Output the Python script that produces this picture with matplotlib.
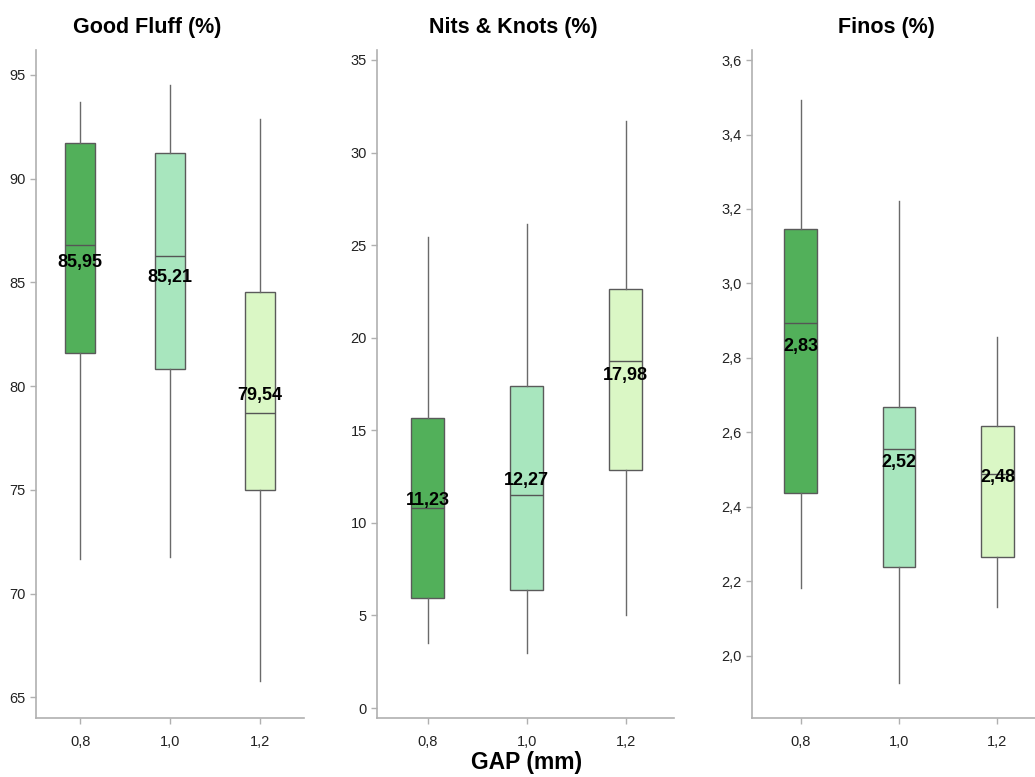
import matplotlib.pyplot as plt
from matplotlib import ticker

plt.rcParams['font.family'] = ['Liberation Sans', 'DejaVu Sans']

gaps = ["0,8", "1,0", "1,2"]
colors = ["#52B05A", "#A8E6BE", "#DAF7C5"]

# Good Fluff (%)
fluff_whislo = [71.65, 71.76, 65.77]
fluff_q1 = [81.61, 80.80, 75.01]
fluff_med = [86.78, 86.27, 78.68]
fluff_q3 = [91.74, 91.22, 84.55]
fluff_whishi = [93.68, 94.49, 92.86]
fluff_mean = [85.95, 85.21, 79.54]

# Nits & Knots (%)
nits_whislo = [3.51, 2.97, 5.02]
nits_q1 = [5.92, 6.37, 12.87]
nits_med = [10.80, 11.48, 18.75]
nits_q3 = [15.66, 17.40, 22.62]
nits_whishi = [25.46, 26.15, 31.71]
nits_mean = [11.23, 12.27, 17.98]

# Finos (%)
finos_whislo = [2.181, 1.928, 2.130]
finos_q1 = [2.436, 2.238, 2.266]
finos_med = [2.893, 2.555, 2.488]
finos_q3 = [3.147, 2.667, 2.616]
finos_whishi = [3.492, 3.221, 2.855]
finos_mean = [2.83, 2.52, 2.48]

panels = [
    ("Good Fluff (%)", fluff_whislo, fluff_q1, fluff_med, fluff_q3, fluff_whishi, fluff_mean,
     (64.0, 96.2), [65, 70, 75, 80, 85, 90, 95], 0),
    ("Nits & Knots (%)", nits_whislo, nits_q1, nits_med, nits_q3, nits_whishi, nits_mean,
     (-0.54, 35.54), [0, 5, 10, 15, 20, 25, 30, 35], 0),
    ("Finos (%)", finos_whislo, finos_q1, finos_med, finos_q3, finos_whishi, finos_mean,
     (1.833, 3.627), [2.0, 2.2, 2.4, 2.6, 2.8, 3.0, 3.2, 3.4, 3.6], 1),
]

# axes rectangles in pixels: left, right, x-limits
boxes_px = [(36, 304, (-0.492, 2.49)), (377.3, 674.3, (-0.51, 2.49)), (752.3, 1045.7, (-0.49, 2.49))]
title_x = [147, 513, 886]

W, H = 1035, 777
fig = plt.figure(figsize=(W / 100, H / 100), dpi=100)

for k, (title, wlo, q1, med, q3, whi, mean, ylim, yt, dec) in enumerate(panels):
    left, right, xlim = boxes_px[k]
    ax = fig.add_axes([left / W, 1 - 718 / H, (right - left) / W, (718 - 50) / H])
    stats = []
    for i in range(3):
        stats.append(dict(whislo=wlo[i], q1=q1[i], med=med[i], q3=q3[i], whishi=whi[i], fliers=[]))
    bp = ax.bxp(stats, positions=[0, 1, 2], widths=0.335, patch_artist=True, showcaps=False,
                showfliers=False,
                boxprops=dict(edgecolor="#5a5a5a", linewidth=1.0),
                whiskerprops=dict(color="#6a6a6a", linewidth=1.0),
                medianprops=dict(color="#555555", linewidth=1.0))
    for patch, c in zip(bp["boxes"], colors):
        patch.set_facecolor(c)
    for i in range(3):
        txt = ("%.2f" % mean[i]).replace(".", ",")
        ax.text(i, mean[i], txt, ha="center", va="center", fontsize=13, fontweight="bold", color="black")

    ax.set_xlim(*xlim)
    ax.set_ylim(*ylim)
    ax.set_yticks(yt)
    ax.set_xticks([0, 1, 2])
    ax.set_xticklabels(gaps)
    if dec:
        ax.yaxis.set_major_formatter(ticker.FuncFormatter(lambda v, p: ("%.1f" % v).replace(".", ",")))
    else:
        ax.yaxis.set_major_formatter(ticker.FuncFormatter(lambda v, p: "%d" % round(v)))
    for s in ["top", "right"]:
        ax.spines[s].set_visible(False)
    for s in ["left", "bottom"]:
        ax.spines[s].set_color("#b0b0b0")
        ax.spines[s].set_linewidth(1.2)
    ax.tick_params(axis="both", colors="#b0b0b0", labelcolor="#222222", labelsize=10.5, length=4, width=1)
    ax.tick_params(axis="x", pad=8)

    fig.text(title_x[k] / W, 1 - 28 / H, title, ha="center", va="center",
             fontsize=15.5, fontweight="bold")

fig.text(527 / W, 1 - 762 / H, "GAP (mm)", ha="center", va="center", fontsize=16.5, fontweight="bold")

fig.savefig("out.png", dpi=100)
